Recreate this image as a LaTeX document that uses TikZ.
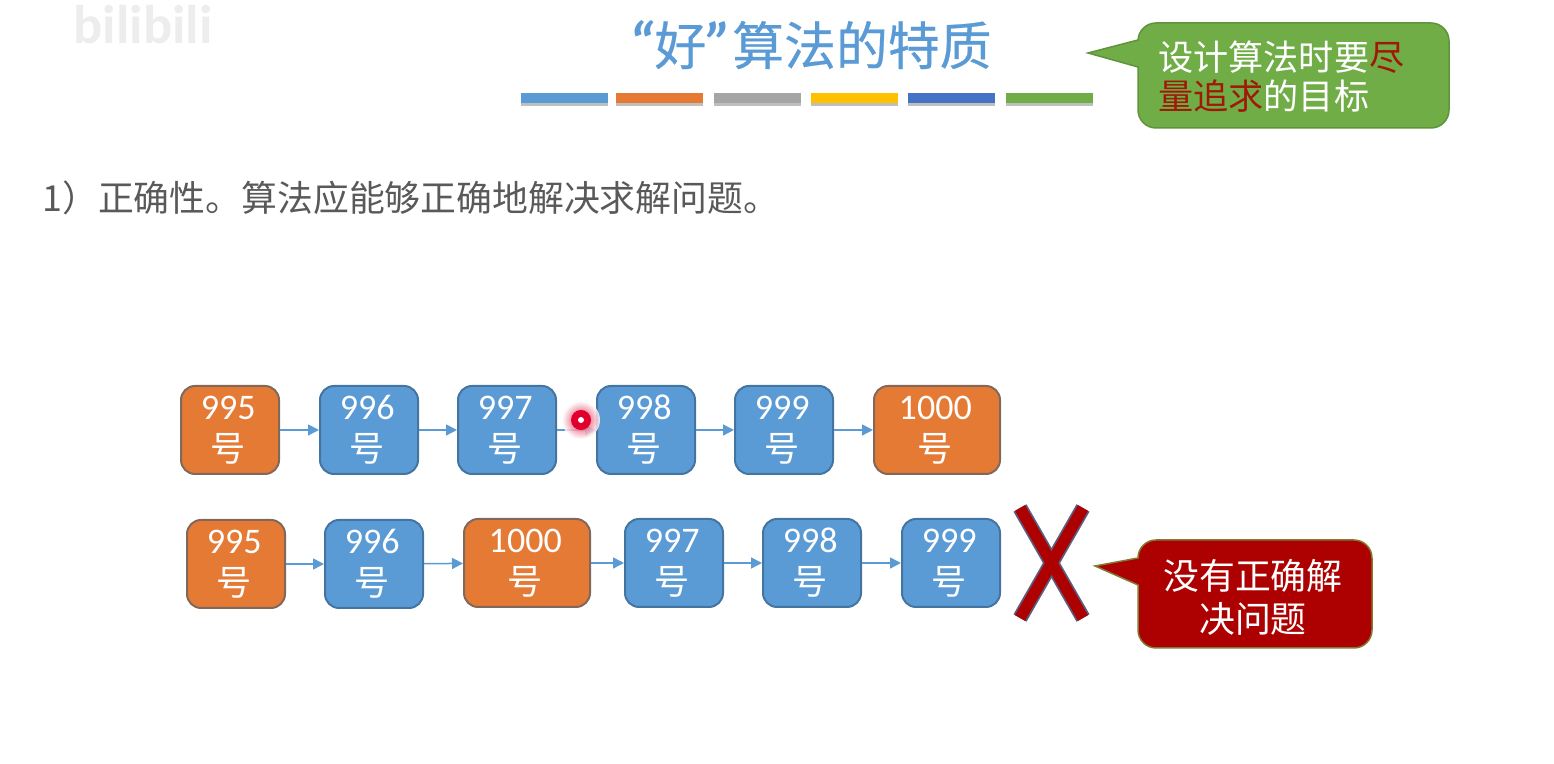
\documentclass[tikz,border=0pt]{standalone}
\usepackage{fontspec}
\setmainfont{Carlito}
\newfontfamily\cjk{Noto Sans CJK SC}
\newfontfamily\cjkbold[FakeBold=0.5]{Noto Sans CJK SC}
\usepackage{tikz}
\usetikzlibrary{arrows.meta,shadows}
\definecolor{slideblue}{HTML}{5B9BD5}
\definecolor{slideorange}{HTML}{E57A35}
\definecolor{slidegray}{HTML}{A5A5A5}
\definecolor{slideyellow}{HTML}{FFC000}
\definecolor{slidenavy}{HTML}{4472C4}
\definecolor{slidegreen}{HTML}{70AD47}
\definecolor{slidered}{HTML}{AD0000}
\definecolor{wordred}{HTML}{A01808}
\definecolor{crossedge}{HTML}{5A5F80}
\definecolor{orangeedge}{HTML}{80695A}
\definecolor{laserred}{HTML}{E0002B}
\tikzset{
  numbox/.style={draw,line width=0.4mm,rounded corners=2.8mm,text=white,inner sep=0pt,
    minimum width=19.6mm,minimum height=17.6mm,align=center,
    font=\fontsize{20.5}{24}\selectfont},
  bluebox/.style={numbox,fill=slideblue,draw=slideblue!75!black},
  orangebox/.style={numbox,fill=slideorange,draw=orangeedge},
  widebox/.style={orangebox,minimum width=25.2mm},
  linkarrow/.style={draw=slideblue,line width=0.3mm,-{Triangle[length=2.2mm,width=2.2mm]}},
  colorbar/.style={minimum width=17.4mm,minimum height=2mm,inner sep=0pt,
    drop shadow={shadow xshift=0mm,shadow yshift=-0.7mm,opacity=0.5}},
  talkgreen/.style={fill=slidegreen,draw=slidegreen!85!black,line width=0.3mm},
  talkred/.style={fill=slidered,draw=slidegreen!70!slidered,line width=0.3mm},
  crossout/.style={draw=crossedge,line width=3mm},
  crossin/.style={draw=slidered,line width=2.3mm}
}
\newcommand{\numlabel}[1]{#1\kern0.7mm\\{\cjk\fontsize{20}{24}\selectfont 号}\kern0.7mm}
\begin{document}
\begin{tikzpicture}
	% \draw[color=gray,step=10mm,help lines,opacity=0.3] (0mm,0mm) grid (310.8mm,152.8mm); %help grids
	\useasboundingbox (0mm,0mm) rectangle (310.8mm,152.8mm);
	% title and bars
	\node[text=black!7,font=\fontsize{31}{31}\selectfont\bfseries] (mark) at (28.6mm,147.8mm) {bilibili};
	\node[text=slideblue,font=\cjkbold\fontsize{29.5}{30}\selectfont] (title) at (162mm,143.8mm) {{\fontspec{Carlito}\bfseries\itshape\fontsize{34}{30}\selectfont “}好{\fontspec{Carlito}\bfseries\itshape\fontsize{34}{30}\selectfont ”}算法的特质};
	\foreach \barname/\barx/\barcol in {one/112.8/slideblue,two/131.8/slideorange,three/151.4/slidegray,four/170.9/slideyellow,five/190.2/slidenavy,six/209.8/slidegreen}
		\node[colorbar,fill=\barcol] (bar\barname) at (\barx mm,133.2mm) {};
	% green remark
	\draw[talkgreen] (217.6mm,142.2mm)--(227.6mm,144.8mm)[rounded corners=3.6mm]--(227.6mm,148.2mm)--(289.8mm,148.2mm)--(289.8mm,127.2mm)--(227.6mm,127.2mm)[sharp corners]--(227.6mm,139.4mm)--cycle;
	\node[anchor=west,text=white,align=left,inner sep=0pt,font=\cjk\fontsize{20}{22.1}\selectfont] (goal) at (231.6mm,137.5mm) {设计算法时要\textcolor{wordred}{尽}\\\textcolor{wordred}{量追求}的目标};
	\node[anchor=west,inner sep=0pt,text=black!65,font=\cjk\fontsize{20.4}{24}\selectfont] (rule) at (8.4mm,113.2mm) {1）正确性。算法应能够正确地解决求解问题。};
	% first row
	\node[orangebox] (a995) at (46mm,66.8mm) {\numlabel{995}};
	\node[bluebox] (a996) at (73.8mm,66.8mm) {\numlabel{996}};
	\node[bluebox] (a997) at (101.4mm,66.8mm) {\numlabel{997}};
	\node[bluebox] (a998) at (129.2mm,66.8mm) {\numlabel{998}};
	\node[bluebox] (a999) at (156.8mm,66.8mm) {\numlabel{999}};
	\node[widebox] (a1000) at (187.4mm,66.8mm) {\numlabel{1000}};
	\draw[linkarrow] (a995)--(a996);
	\draw[linkarrow] (a996)--(a997);
	\draw[linkarrow] (a997)--(a998);
	\draw[linkarrow] (a998)--(a999);
	\draw[linkarrow] (a999)--(a1000);
	% laser pointer
	\shade[inner color=laserred,outer color=white,opacity=0.85] (116.2mm,68.8mm) circle (3.8mm);
	\fill[laserred] (116.2mm,68.8mm) circle (2mm);
	\node[circle,fill=white,inner sep=0pt,minimum size=1.2mm] (laser) at (116.2mm,68.8mm) {};
	% second row
	\node[orangebox] (b995) at (47.2mm,40mm) {\numlabel{995}};
	\node[bluebox] (b996) at (74.8mm,40mm) {\numlabel{996}};
	\node[widebox] (b1000) at (105.4mm,40.2mm) {\numlabel{1000}};
	\node[bluebox] (b997) at (134.8mm,40.2mm) {\numlabel{997}};
	\node[bluebox] (b998) at (162.4mm,40.2mm) {\numlabel{998}};
	\node[bluebox] (b999) at (190.2mm,40.2mm) {\numlabel{999}};
	\draw[linkarrow] (b995)--(b996);
	\draw[linkarrow] (b996)--(b1000);
	\draw[linkarrow] (b1000)--(b997);
	\draw[linkarrow] (b997)--(b998);
	\draw[linkarrow] (b998)--(b999);
	% big cross
	\coordinate (crossnw) at (204mm,51.2mm);
	\coordinate (crossse) at (216.6mm,29.2mm);
	\coordinate (crossne) at (216.6mm,51.2mm);
	\coordinate (crosssw) at (204mm,29.2mm);
	\draw[crossout] (crossnw)--(crossse);
	\draw[crossout] (crossne)--(crosssw);
	\draw[crossin] (crossnw)--(crossse);
	\draw[crossin] (crossne)--(crosssw);
	% red remark
	\draw[talkred] (219mm,39.6mm)--(227.6mm,41.2mm)[rounded corners=3.6mm]--(227.6mm,44.8mm)--(274.4mm,44.8mm)--(274.4mm,23.2mm)--(227.6mm,23.2mm)[sharp corners]--(227.6mm,35.8mm)--cycle;
	\node[text=white,align=center,inner sep=0pt,font=\cjk\fontsize{20.4}{24.4}\selectfont] (wrong) at (250.6mm,33.4mm) {没有正确解\\决问题};
\end{tikzpicture}
\end{document}
